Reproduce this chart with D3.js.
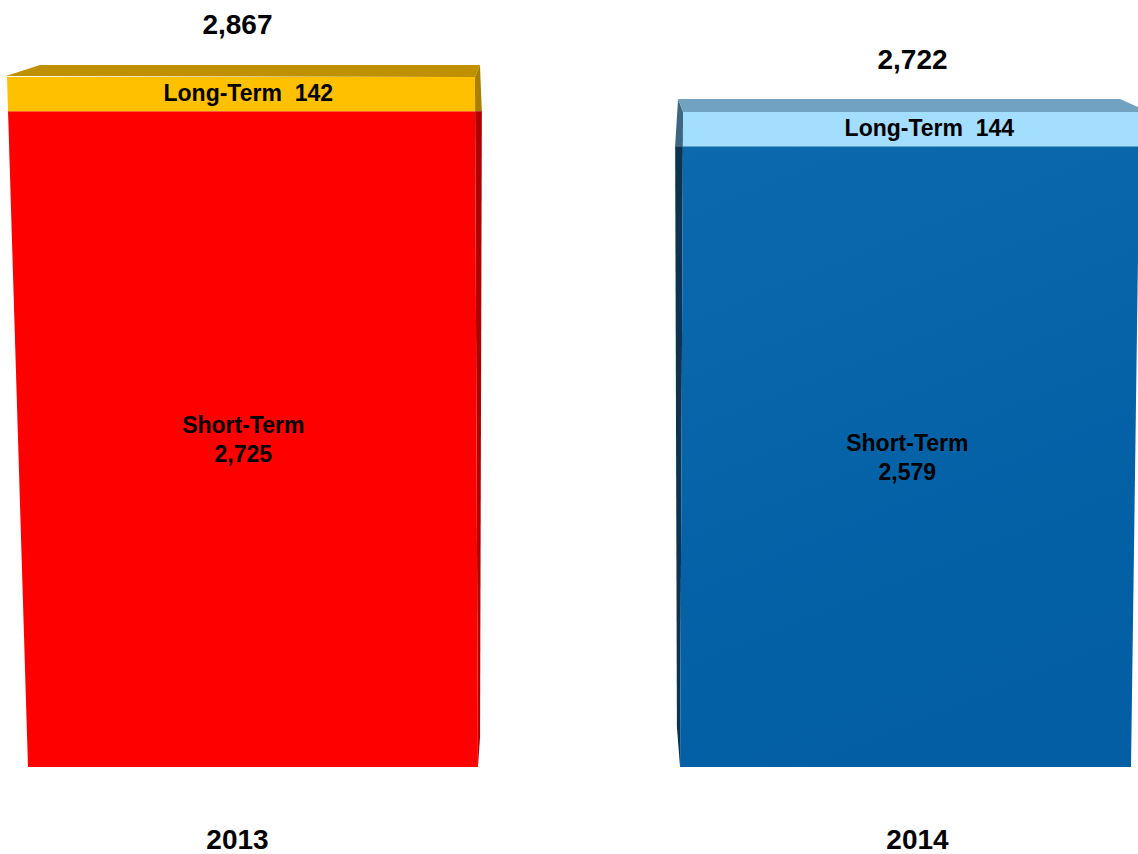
<!DOCTYPE html>
<html>
<head>
<meta charset="utf-8">
<script src="https://cdn.jsdelivr.net/npm/d3@7/dist/d3.min.js"></script>
<style>
    html, body { margin: 0; padding: 0; background: #fff; }
    svg { display: block; font-family: "Liberation Sans", Arial, sans-serif; font-weight: bold; }
</style>
</head>
<body>
<div id="chart"></div>
<script>
const years = ['2013', '2014'];
const shortTerm = [2725, 2579];
const longTerm = [142, 144];
const totals = [2867, 2722];

const palettes = [
    { shortFront: '#fe0000', shortSide: '#b00000', longFront: '#ffc000', longSide: '#a88000', top: '#bf9000' },
    { shortFront: '#0864a8', shortSide: '#0b3352', longFront: '#a3ddff', longSide: '#3d6680', top: '#72a2c2' }
];

const width = 1138;
const height = 854;
const baseY = 767;

const svg = d3.select('#chart')
    .append('svg')
    .attr('width', width)
    .attr('height', height);

const defs = svg.append('defs');
const blueGrad = defs.append('linearGradient')
    .attr('id', 'blue-front')
    .attr('x1', 0).attr('y1', 0).attr('x2', 0.3).attr('y2', 1);
blueGrad.append('stop').attr('offset', 0).attr('stop-color', '#0b69ad');
blueGrad.append('stop').attr('offset', 1).attr('stop-color', '#035ea4');

const x = d3.scaleBand()
    .domain(years)
    .range([7, 1138])
    .paddingInner(0.307);

const y = d3.scaleLinear()
    .domain([0, d3.max(totals)])
    .range([baseY, 77]);

const data = years.map((year, i) => ({
    year,
    short: shortTerm[i],
    long: longTerm[i],
    total: totals[i],
    palette: palettes[i],
    // left bar shows its right side, right bar shows its left side
    innerRight: i === 0
}));

// front face edges: outer edge leans inward toward the base, inner edge leans out a little
function edges(d) {
    const x0 = x(d.year);
    const x1 = x0 + x.bandwidth();
    const top = y(d.total);
    if (d.innerRight) {
        const left = yy => x0 + 21 * (yy - top) / (baseY - top);
        const right = yy => x1 + 5 + 3 * (yy - top) / (baseY - top);
        return { left, right, top };
    }
    const left = yy => x0 + 8 - 3 * (yy - top) / (baseY - top);
    const right = yy => x1 + 2 - 9 * (yy - top) / (baseY - top);
    return { left, right, top };
}

function poly(points) {
    return 'M' + points.map(p => p.join(',')).join('L') + 'Z';
}

const depth = 12;

const bars = svg.append('g')
    .selectAll('g')
    .data(data)
    .join('g');

bars.each(function (d) {
    const g = d3.select(this);
    const e = edges(d);
    const p = d.palette;
    const yTop = e.top;
    const yMid = y(d.short);
    const frontFill = d.innerRight ? p.shortFront : 'url(#blue-front)';

    // side face
    if (d.innerRight) {
        const sx = yy => e.right(yy) + 5 * (1 - (yy - yTop) / (baseY - yTop)) + 2;
        g.append('path')
            .attr('fill', p.longSide)
            .attr('d', poly([[e.right(yTop), yTop], [e.right(yTop) + 5, yTop - depth], [sx(yMid), yMid], [e.right(yMid), yMid]]));
        g.append('path')
            .attr('fill', p.shortSide)
            .attr('d', poly([[e.right(yMid), yMid], [sx(yMid), yMid], [sx(baseY - 30), baseY - 30], [e.right(baseY), baseY]]));
    } else {
        const sx = yy => e.left(yy) - 5 * (1 - (yy - yTop) / (baseY - yTop)) - 3;
        g.append('path')
            .attr('fill', p.longSide)
            .attr('d', poly([[e.left(yTop), yTop], [e.left(yTop) - 5, yTop - depth - 1], [sx(yMid), yMid], [e.left(yMid), yMid]]));
        g.append('path')
            .attr('fill', p.shortSide)
            .attr('d', poly([[e.left(yMid), yMid], [sx(yMid), yMid], [sx(baseY - 40), baseY - 40], [e.left(baseY), baseY]]));
    }

    // top face
    const topPts = d.innerRight
        ? [[e.left(yTop) - 1, yTop - 1], [e.left(yTop) + 33, yTop - depth], [e.right(yTop) + 5, yTop - depth], [e.right(yTop), yTop]]
        : [[e.left(yTop) - 5, yTop - depth - 1], [e.right(yTop) - 20, yTop - depth - 1], [e.right(yTop), yTop - 4], [e.right(yTop), yTop], [e.left(yTop), yTop]];
    g.append('path')
        .attr('fill', p.top)
        .attr('d', poly(topPts));

    // front face: short-term and long-term segments
    g.append('path')
        .attr('fill', frontFill)
        .attr('d', poly([[e.left(yMid), yMid], [e.right(yMid), yMid], [e.right(baseY), baseY], [e.left(baseY), baseY]]));
    g.append('path')
        .attr('fill', p.longFront)
        .attr('d', poly([[e.left(yTop), yTop], [e.right(yTop), yTop], [e.right(yMid), yMid], [e.left(yMid), yMid]]));

    const fmt = d3.format(',');
    const longMidY = (yTop + yMid) / 2;
    const shortMidY = (yMid + baseY) / 2;
    const cx = yy => (e.left(yy) + e.right(yy)) / 2;
    const bandCenter = x(d.year) + x.bandwidth() / 2;

    g.append('text')
        .attr('x', cx(longMidY) + (d.innerRight ? 7 : 18))
        .attr('y', longMidY + 7)
        .attr('text-anchor', 'middle')
        .attr('font-size', 23)
        .style('white-space', 'pre')
        .text(`Long-Term  ${fmt(d.long)}`);

    g.append('text')
        .attr('x', cx(shortMidY) + (d.innerRight ? -4 : -1))
        .attr('y', shortMidY - 6)
        .attr('text-anchor', 'middle')
        .attr('font-size', 23)
        .text('Short-Term');

    g.append('text')
        .attr('x', cx(shortMidY) + (d.innerRight ? -4 : -1))
        .attr('y', shortMidY + 23)
        .attr('text-anchor', 'middle')
        .attr('font-size', 23)
        .text(fmt(d.short));

    g.append('text')
        .attr('x', bandCenter + (d.innerRight ? -1 : 6))
        .attr('y', yTop - 43)
        .attr('text-anchor', 'middle')
        .attr('font-size', 28)
        .text(fmt(d.total));

    g.append('text')
        .attr('x', bandCenter + (d.innerRight ? -1 : 11))
        .attr('y', 849)
        .attr('text-anchor', 'middle')
        .attr('font-size', 28)
        .text(d.year);
});
</script>
</body>
</html>
